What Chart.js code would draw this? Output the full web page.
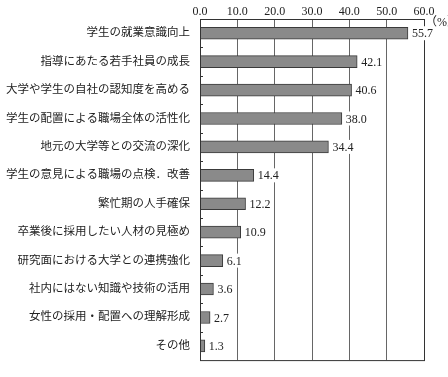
<!DOCTYPE html>
<html>
<head>
<meta charset="utf-8">
<script src="https://cdn.jsdelivr.net/npm/chart.js@4/dist/chart.umd.min.js"></script>
<style>
  html, body { margin: 0; padding: 0; background: #fff; }
  #wrap { width: 448px; height: 377px; }
</style>
</head>
<body>
<div id="wrap"><canvas id="chart"></canvas></div>
<script>
// data
const categories = [
  '学生の就業意識向上',
  '指導にあたる若手社員の成長',
  '大学や学生の自社の認知度を高める',
  '学生の配置による職場全体の活性化',
  '地元の大学等との交流の深化',
  '学生の意見による職場の点検．改善',
  '繁忙期の人手確保',
  '卒業後に採用したい人材の見極め',
  '研究面における大学との連携強化',
  '社内にはない知識や技術の活用',
  '女性の採用・配置への理解形成',
  'その他'
];
const values = [55.7, 42.1, 40.6, 38.0, 34.4, 14.4, 12.2, 10.9, 6.1, 3.6, 2.7, 1.3];
const xTicks = [0, 10, 20, 30, 40, 50, 60];

const FONT = '"Liberation Serif", "Noto Sans CJK JP", serif';

// value labels, frame, category ticks and unit
const extras = {
  id: 'extras',
  afterDatasetsDraw(chart) {
    const { ctx, chartArea: a } = chart;
    const yScale = chart.scales.y;
    ctx.save();
    // frame
    ctx.strokeStyle = '#333';
    ctx.lineWidth = 1;
    ctx.strokeRect(a.left + 0.5, a.top + 0.5, a.right - a.left, a.bottom - a.top);
    // small inner ticks between categories
    for (let i = 1; i < categories.length; i++) {
      const y = Math.round((yScale.getPixelForValue(i - 1) + yScale.getPixelForValue(i)) / 2) + 0.5;
      ctx.beginPath();
      ctx.moveTo(a.left, y);
      ctx.lineTo(a.left + 3, y);
      ctx.stroke();
    }
    // values on a white patch that hides the grid
    ctx.font = '12px ' + FONT;
    ctx.textBaseline = 'middle';
    ctx.textAlign = 'left';
    chart.getDatasetMeta(0).data.forEach((bar, i) => {
      const txt = values[i].toFixed(1);
      const w = ctx.measureText(txt).width;
      ctx.fillStyle = '#fff';
      ctx.fillRect(bar.x + 2, bar.y - 7, w + 3, 14);
      ctx.fillStyle = '#222';
      ctx.fillText(txt, bar.x + 4, bar.y + 1);
    });
    // unit
    ctx.fillText('（%）', a.right + 1, a.top + 4);
    ctx.restore();
  }
};

new Chart(document.getElementById('chart'), {
  type: 'bar',
  data: {
    labels: categories,
    datasets: [{
      data: values,
      backgroundColor: '#8a8a8a',
      borderColor: '#3a3a3a',
      borderWidth: 1,
      barThickness: 12,
      categoryPercentage: 1
    }]
  },
  options: {
    indexAxis: 'y',
    responsive: true,
    maintainAspectRatio: false,
    animation: false,
    layout: { padding: { left: 0, right: 24, top: 0, bottom: 3 } },
    plugins: { legend: { display: false }, tooltip: { enabled: false } },
    scales: {
      x: {
        position: 'top',
        min: 0,
        max: 60,
        afterBuildTicks(scale) { scale.ticks = xTicks.map(v => ({ value: v })); },
        afterFit(scale) { scale.height = 19; },
        ticks: {
          color: '#222',
          font: { family: FONT, size: 12 },
          padding: 0,
          callback: v => Number(v).toFixed(1)
        },
        grid: { color: '#666', drawTicks: false },
        border: { color: '#333' }
      },
      y: {
        afterFit(scale) { scale.width = 200; },
        ticks: {
          color: '#222',
          font: { family: FONT, size: 11.5 },
          padding: 10
        },
        grid: { drawOnChartArea: false, drawTicks: false },
        border: { color: '#333' }
      }
    }
  },
  plugins: [extras]
});
</script>
</body>
</html>
